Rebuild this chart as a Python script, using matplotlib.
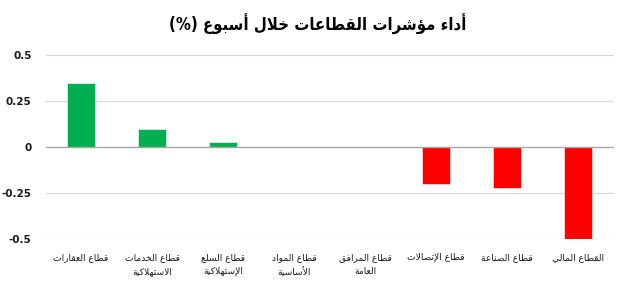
import matplotlib
matplotlib.use("Agg")
import matplotlib.pyplot as plt

# ---------------- data ----------------
categories = [
    "قطاع العقارات",
    "قطاع الخدمات\nالاستهلاكية",
    "قطاع السلع\nالإستهلاكية",
    "قطاع المواد\nالأساسية",
    "قطاع المرافق\nالعامة",
    "قطاع الإتصالات",
    "قطاع الصناعة",
    "القطاع المالي",
]
values = [0.35, 0.10, 0.03, 0.0, 0.0, -0.20, -0.22, -0.50]
yticks = [-0.5, -0.25, 0, 0.25, 0.5]
ytick_labels = ["-0.5", "-0.25", "0", "0.25", "0.5"]
title = "أداء مؤشرات القطاعات خلال أسبوع (%)"

# ------------- minimal Arabic shaping -------------
FOUR = {
    '\u0626': 0xFE89, '\u0628': 0xFE8F, '\u062A': 0xFE95, '\u062B': 0xFE99,
    '\u062C': 0xFE9D, '\u062D': 0xFEA1, '\u062E': 0xFEA5, '\u0633': 0xFEB1,
    '\u0634': 0xFEB5, '\u0635': 0xFEB9, '\u0636': 0xFEBD, '\u0637': 0xFEC1,
    '\u0638': 0xFEC5, '\u0639': 0xFEC9, '\u063A': 0xFECD, '\u0641': 0xFED1,
    '\u0642': 0xFED5, '\u0643': 0xFED9, '\u0644': 0xFEDD, '\u0645': 0xFEE1,
    '\u0646': 0xFEE5, '\u0647': 0xFEE9, '\u064A': 0xFEF1,
}
TWO = {
    '\u0622': 0xFE81, '\u0623': 0xFE83, '\u0624': 0xFE85, '\u0625': 0xFE87,
    '\u0627': 0xFE8D, '\u0629': 0xFE93, '\u062F': 0xFEA9, '\u0630': 0xFEAB,
    '\u0631': 0xFEAD, '\u0632': 0xFEAF, '\u0648': 0xFEED, '\u0649': 0xFEEF,
}
ONE = {'\u0621': 0xFE80}
LAMALEF = {'\u0622': 0xFEF5, '\u0623': 0xFEF7, '\u0625': 0xFEF9, '\u0627': 0xFEFB}
MIRROR = {'(': ')', ')': '('}


def shape_line(s):
    toks = []
    i = 0
    while i < len(s):
        c = s[i]
        if c == '\u0644' and i + 1 < len(s) and s[i + 1] in LAMALEF:
            toks.append(('LA', s[i + 1]))
            i += 2
        else:
            toks.append(('C', c))
            i += 1

    def joins_next(t):
        return t[0] == 'C' and t[1] in FOUR

    def joins_prev(t):
        return t[0] == 'LA' or (t[0] == 'C' and (t[1] in FOUR or t[1] in TWO))

    out = []
    for k, t in enumerate(toks):
        prev_j = k > 0 and joins_next(toks[k - 1]) and joins_prev(t)
        next_j = (k + 1 < len(toks)) and joins_next(t) and joins_prev(toks[k + 1])
        if t[0] == 'LA':
            out.append(chr(LAMALEF[t[1]] + (1 if prev_j else 0)))
            continue
        c = t[1]
        if c in FOUR:
            b = FOUR[c]
            if prev_j and next_j:
                out.append(chr(b + 3))
            elif prev_j:
                out.append(chr(b + 1))
            elif next_j:
                out.append(chr(b + 2))
            else:
                out.append(chr(b))
        elif c in TWO:
            out.append(chr(TWO[c] + (1 if prev_j else 0)))
        elif c in ONE:
            out.append(chr(ONE[c]))
        else:
            out.append(MIRROR.get(c, c))
    return ''.join(reversed(out))


def ar(s):
    return '\n'.join(shape_line(line) for line in s.split('\n'))


# ---------------- plot ----------------
plt.rcParams['font.family'] = ['DejaVu Sans']
fig = plt.figure(figsize=(6.25, 3.02), dpi=100)
ax = fig.add_axes([0.0728, 0.207, 0.909, 0.611])

x = list(range(len(categories)))
colors = ['#00B050' if v >= 0 else '#FF0000' for v in values]
ax.bar(x, values, width=0.4, color=colors, edgecolor='white', linewidth=0.4, zorder=3)

ax.set_xlim(-0.5, len(categories) - 0.5)
ax.set_ylim(-0.5, 0.5)
ax.set_yticks(yticks)
ax.set_yticklabels(ytick_labels, fontsize=7.5, fontweight='bold', color='#1a1a1a')
for yv in yticks:
    if yv != 0:
        ax.axhline(yv, color='#D9D9D9', linewidth=0.9, zorder=1)
ax.axhline(0, color='#A6A6A6', linewidth=1.0, zorder=4)

ax.set_xticks([])
for spine in ax.spines.values():
    spine.set_visible(False)
ax.tick_params(axis='y', length=0, pad=10)

for xi, lab in zip(x, categories):
    ax.text(xi, -0.572, ar(lab), ha='center', va='top', fontsize=6.6,
            color='#1a1a1a', linespacing=1.75)

fig.text(0.508, 0.918, ar(title), ha='center', va='center', fontsize=12,
         fontweight='bold', fontstretch='condensed', color='black')

fig.savefig('out.png', dpi=100)
